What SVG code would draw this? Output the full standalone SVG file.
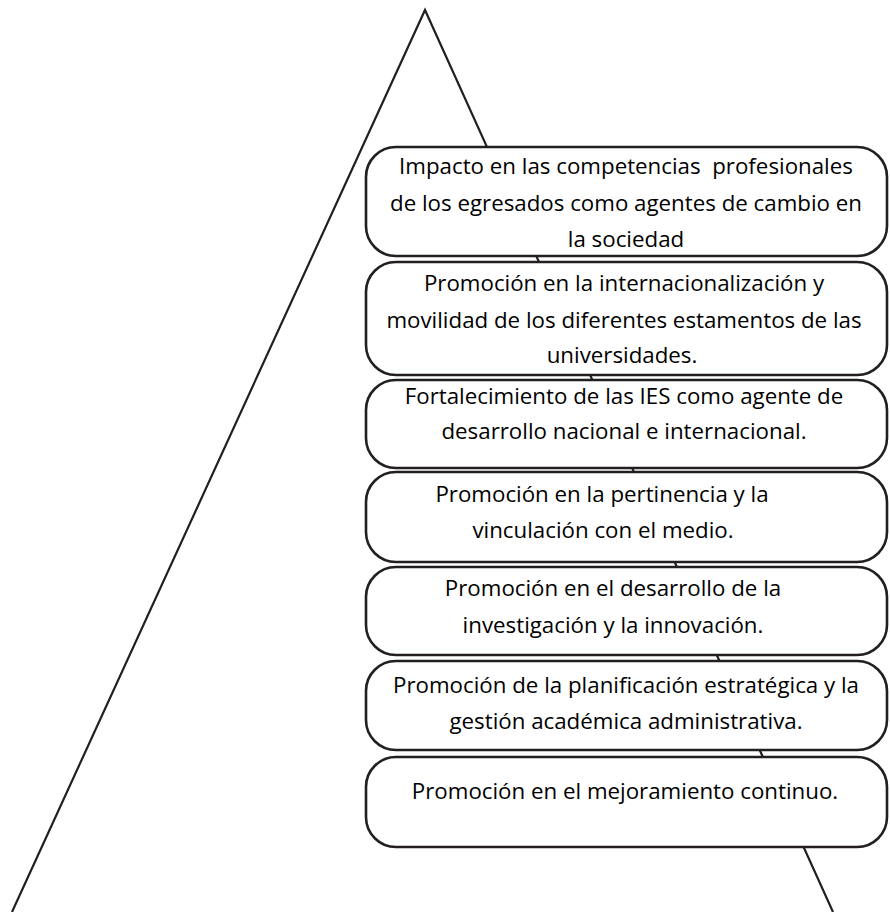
<svg xmlns="http://www.w3.org/2000/svg" width="890" height="912" viewBox="0 0 890 912">
<style>
.box{fill:#fff;stroke:#231f20;stroke-width:2.6}
.tri{fill:none;stroke:#231f20;stroke-width:2.2}
text{font-family:"Open Sans","Liberation Sans",sans-serif;font-size:22.3px;fill:#000;text-anchor:middle;white-space:pre}
</style>
<rect width="890" height="912" fill="#fff"/>
<g id="connectors">
<polyline class="tri" points="12,912 425,10 833,912"/>
</g>
<g id="n1">
<rect class="box" x="366" y="147" width="521" height="109" rx="30"/>
<text x="626" y="174">Impacto en las competencias  profesionales</text>
<text x="626" y="211">de los egresados como agentes de cambio en</text>
<text x="626" y="247">la sociedad</text>
</g>
<g id="n2">
<rect class="box" x="366" y="262" width="521" height="113" rx="30"/>
<text x="624" y="291">Promoción en la internacionalización y</text>
<text x="624" y="328">movilidad de los diferentes estamentos de las</text>
<text x="622" y="363">universidades.</text>
</g>
<g id="n3">
<rect class="box" x="366" y="380" width="521" height="88" rx="30"/>
<text x="624" y="404">Fortalecimiento de las IES como agente de</text>
<text x="624" y="439">desarrollo nacional e internacional.</text>
</g>
<g id="n4">
<rect class="box" x="366" y="472" width="521" height="90" rx="30"/>
<text x="602" y="502">Promoción en la pertinencia y la</text>
<text x="603" y="538">vinculación con el medio.</text>
</g>
<g id="n5">
<rect class="box" x="366" y="567" width="521" height="88" rx="30"/>
<text x="613" y="596">Promoción en el desarrollo de la</text>
<text x="613" y="633">investigación y la innovación.</text>
</g>
<g id="n6">
<rect class="box" x="366" y="661" width="521" height="89" rx="30"/>
<text x="626" y="693">Promoción de la planificación estratégica y la</text>
<text x="626" y="729">gestión académica administrativa.</text>
</g>
<g id="n7">
<rect class="box" x="366" y="757" width="521" height="90" rx="30"/>
<text x="625" y="799">Promoción en el mejoramiento continuo.</text>
</g>
</svg>
